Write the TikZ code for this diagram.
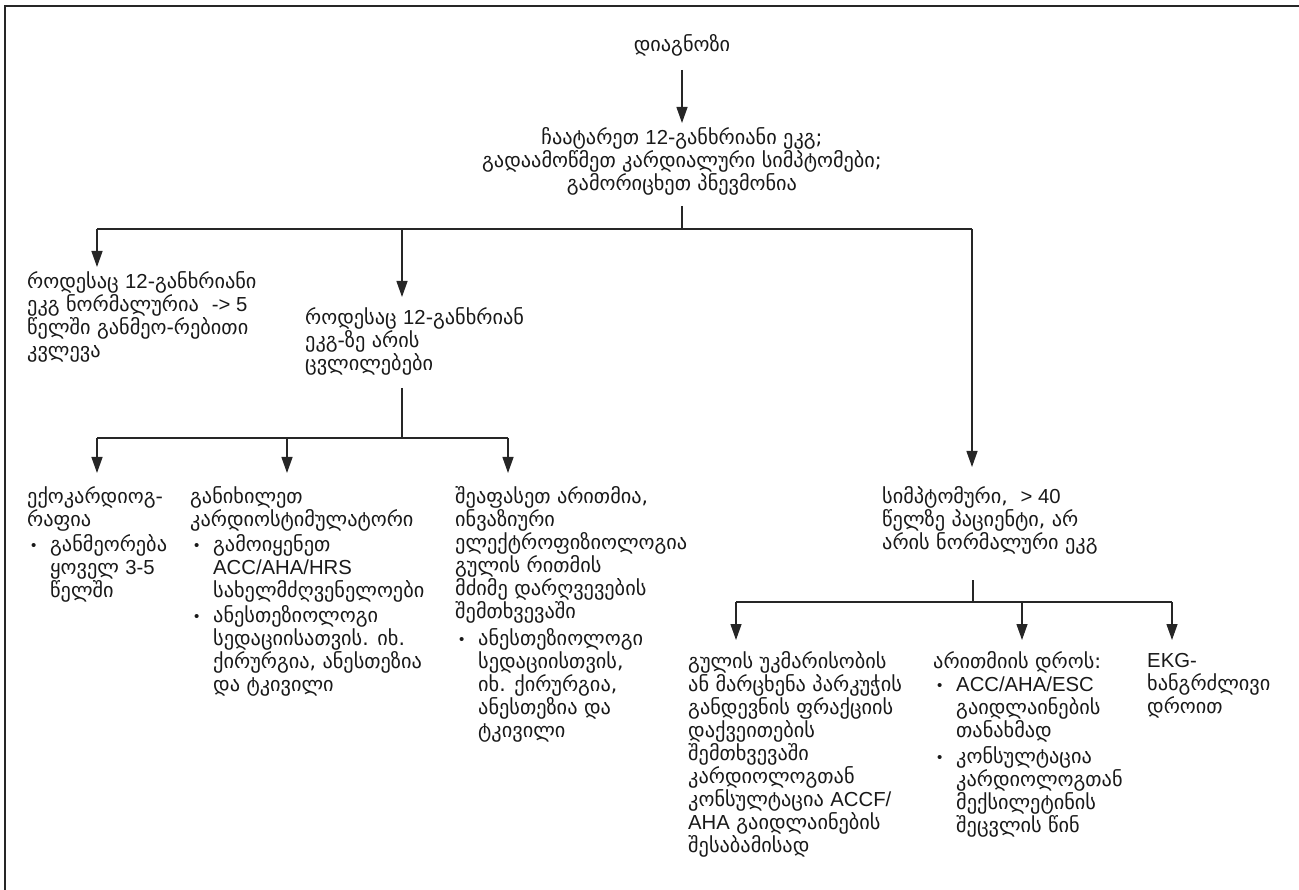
\documentclass[tikz,border=0pt]{standalone}
\usepackage{fontspec}
\setmainfont{DejaVu Sans}
\newfontfamily\latf{Liberation Sans}
\usetikzlibrary{arrows.meta}
\newcommand\fl{\rule{0pt}{16pt}}
\newcommand\lt[1]{{\latf\fontsize{20.3}{23}\selectfont #1}}
\newcommand\bitem{\hspace*{4pt}\makebox[19pt][l]{\raisebox{1pt}{\latf\fontsize{15}{15}\selectfont •}}}
\newcommand\bcont{\hspace*{23pt}}
\begin{document}
\begin{tikzpicture}[x=1pt,y=-1pt,
  txt/.style={inner sep=0pt,anchor=north west,align=left,font=\fontsize{20.3}{23}\selectfont,text=black!90},
  ctxt/.style={inner sep=0pt,anchor=north,align=center,font=\fontsize{20.3}{23}\selectfont,text=black!90},
  ln/.style={line width=1.3pt,draw=black!85},
  arr/.style={ln,-{Triangle[width=11pt,length=16pt]}}]
\useasboundingbox (0,0) rectangle (1299,890);
% frame
\draw[ln] (5,890) -- (5,6) -- (1299,6);
% nodes
\node[ctxt] (diag) at (682,50-16) {\fl დიაგნოზი};
\node[ctxt] (step2) at (682,143-16) {\fl ჩაატარეთ \lt{12}-განხრიანი ეკგ;\\გადაამოწმეთ კარდიალური სიმპტომები;\\გამორიცხეთ პნევმონია};
\node[txt] (n1) at (27,287-16) {\fl როდესაც \lt{12}-განხრიანი\\ეკგ ნორმალურია \ \lt{-> 5}\\წელში განმეო-რებითი\\კვლევა};
\node[txt] (n2) at (305,323-16) {\fl როდესაც \lt{12}-განხრიან\\ეკგ-ზე არის\\ცვლილებები};
\node[txt] (n3) at (882,502-16) {\fl სიმპტომური, \ \lt{> 40}\\წელზე პაციენტი, არ\\არის ნორმალური ეკგ};
\node[txt] (c1) at (27,502-16) {\fl ექოკარდიოგ-\\რაფია\\[2pt]\bitem განმეორება\\\bcont ყოველ \lt{3-5}\\\bcont წელში};
\node[txt] (c2) at (190,502-16) {\fl განიხილეთ\\კარდიოსტიმულატორი\\[2pt]\bitem გამოიყენეთ\\\bcont \lt{ACC/AHA/HRS}\\\bcont სახელმძღვენელოები\\[2pt]\bitem ანესთეზიოლოგი\\\bcont სედაციისათვის. იხ.\\\bcont ქირურგია, ანესთეზია\\\bcont და ტკივილი};
\node[txt] (c3) at (455,502-16) {\fl შეაფასეთ არითმია,\\ინვაზიური\\ელექტროფიზიოლოგია\\გულის რითმის\\მძიმე დარღვევების\\შემთხვევაში\\[4pt]\bitem ანესთეზიოლოგი\\\bcont სედაციისთვის,\\\bcont იხ. ქირურგია,\\\bcont ანესთეზია და\\\bcont ტკივილი};
\node[txt] (d1) at (688,667-16) {\fl გულის უკმარისობის\\ან მარცხენა პარკუჭის\\განდევნის ფრაქციის\\დაქვეითების\\შემთხვევაში\\კარდიოლოგთან\\კონსულტაცია \lt{ACCF/}\\\lt{AHA} გაიდლაინების\\შესაბამისად};
\node[txt] (d2) at (933,667-16) {\fl არითმიის დროს:\\\bitem \lt{ACC/AHA/ESC}\\\bcont გაიდლაინების\\\bcont თანახმად\\[3pt]\bitem კონსულტაცია\\\bcont კარდიოლოგთან\\\bcont მექსილეტინის\\\bcont შეცვლის წინ};
\node[txt] (d3) at (1147,667-16) {\fl \lt{EKG-}\\ხანგრძლივი\\დროით};
% junction coordinates
\coordinate (a0) at (682,70);
\coordinate (a1) at (682,123);
\coordinate (b0) at (682,206);
\coordinate (b1) at (682,229);
\coordinate (bl) at (97,229);
\coordinate (bm) at (402,229);
\coordinate (br) at (972,229);
\coordinate (c0) at (402,388);
\coordinate (c1j) at (402,438);
\coordinate (cl) at (97,438);
\coordinate (cm) at (287,438);
\coordinate (cr) at (508,438);
\coordinate (e0) at (973,580);
\coordinate (e1) at (973,602);
\coordinate (el) at (736,602);
\coordinate (em) at (1022,602);
\coordinate (er) at (1172,602);
% connectors
\draw[arr] (a0) -- (a1);
\draw[ln] (b0) -- (b1);
\draw[ln] (bl) -- (br);
\draw[arr] (bl) -- (97,267);
\draw[arr] (bm) -- (402,297);
\draw[arr] (br) -- (972,467);
\draw[ln] (c0) -- (c1j);
\draw[ln] (cl) -- (cr);
\draw[arr] (cl) -- (97,473);
\draw[arr] (cm) -- (287,473);
\draw[arr] (cr) -- (508,473);
\draw[ln] (e0) -- (e1);
\draw[ln] (el) -- (er);
\draw[arr] (el) -- (736,640);
\draw[arr] (em) -- (1022,640);
\draw[arr] (er) -- (1172,640);
\end{tikzpicture}
\end{document}
